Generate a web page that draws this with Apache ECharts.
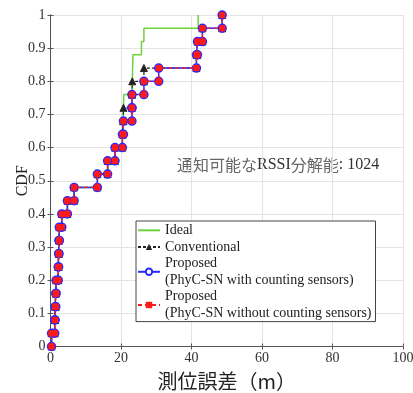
<!DOCTYPE html>
<html>
<head>
<meta charset="utf-8">
<script src="https://cdn.jsdelivr.net/npm/echarts@6/dist/echarts.min.js"></script>
<style>
  html, body { margin: 0; padding: 0; background: #fff; }
  #chart { width: 413px; height: 393px; }
</style>
</head>
<body>
<div id="chart"></div>
<script>
// sorted positioning errors (m); CDF steps of 1/25 per sample
const idealErr = [0.3, 1.2, 1.3, 1.5, 1.6, 2.2, 2.3, 2.4, 2.5, 3.2, 4.8, 6.7, 13.3, 16.2, 18.3, 20.4, 20.6,
                  20.7, 20.8, 23.2, 23.3, 23.4, 25.8, 26.5, 41.9];
const convErr = [0.3, 1.2, 1.3, 1.5, 1.6, 2.2, 2.3, 2.4, 2.5, 3.2, 4.8, 6.7, 13.3, 16.2, 18.3, 20.4, 20.6,
                 20.7, 23.1, 23.2, 26.5, 41.4, 41.7, 43.1, 48.7];
const propErr = [0.3, 1.2, 1.3, 1.5, 1.6, 2.2, 2.3, 2.4, 2.5, 3.2, 4.8, 6.7, 13.3, 16.2, 18.3, 20.4, 20.7,
                 23.1, 23.1, 26.5, 30.7, 41.4, 41.7, 43.1, 48.7];
const propNoCountErr = propErr.slice();

const xTicks = [0, 20, 40, 60, 80, 100];
const yTicks = [0, 0.1, 0.2, 0.3, 0.4, 0.5, 0.6, 0.7, 0.8, 0.9, 1];

const seriesNames = ['Ideal', 'Conventional', 'Proposed (with)', 'Proposed (without)'];
const legendLabels = {
    'Ideal': 'Ideal',
    'Conventional': 'Conventional',
    'Proposed (with)': 'Proposed\n(PhyC-SN with counting sensors)',
    'Proposed (without)': 'Proposed\n(PhyC-SN without counting sensors)'
};

// stairs vertices: vertical jump at each sample
function stairs(errs) {
    const n = errs.length;
    const pts = [];
    errs.forEach((e, k) => {
        pts.push([e, k / n]);
        pts.push([e, (k + 1) / n]);
    });
    return pts;
}

const serif = 'Liberation Serif';
const chart = echarts.init(document.getElementById('chart'));

const option = {
    backgroundColor: '#fff',
    animation: false,
    grid: { left: 50.5, right: 10, top: 15, bottom: 46.5, containLabel: false, outerBoundsMode: 'none' },
    legend: {
        orient: 'vertical',
        left: 136,
        top: 221,
        data: [
            { name: seriesNames[0], itemStyle: { opacity: 0 } },
            seriesNames[1],
            { name: seriesNames[2], itemStyle: { color: '#fff' } },
            seriesNames[3]
        ],
        formatter: (name) => legendLabels[name],
        backgroundColor: '#fff',
        borderColor: '#444',
        borderWidth: 1,
        borderRadius: 0,
        padding: [1, 4, 0, 1],
        itemGap: 0,
        itemWidth: 22,
        itemHeight: 8,
        textStyle: { fontFamily: serif, fontSize: 14, color: '#222', lineHeight: 16.6 }
    },
    xAxis: [
        {
            type: 'value', min: xTicks[0], max: xTicks[xTicks.length - 1], interval: 20,
            name: '測位誤差（m）', nameLocation: 'middle', nameGap: 25, nameMoveOverlap: false,
            nameTextStyle: { fontFamily: 'Noto Sans CJK JP', fontSize: 20, color: '#222' },
            axisLine: { show: true, lineStyle: { color: '#555', width: 1 } },
            axisTick: { show: true, inside: true, length: 3, lineStyle: { color: '#555' } },
            axisLabel: { fontFamily: serif, fontSize: 14, color: '#333', margin: 5 },
            splitLine: { show: true, lineStyle: { color: '#e4e4e4', width: 1 } }
        },
        {
            type: 'value', position: 'top', min: 0, max: 100, interval: 20,
            axisLine: { show: true, lineStyle: { color: '#555', width: 1 } },
            axisTick: { show: true, inside: true, length: 3, lineStyle: { color: '#555' } },
            axisLabel: { show: false },
            splitLine: { show: false }
        }
    ],
    yAxis: [
        {
            type: 'value', min: yTicks[0], max: yTicks[yTicks.length - 1], interval: 0.1,
            name: 'CDF', nameLocation: 'middle', nameGap: 20, nameRotate: 90, nameMoveOverlap: false,
            nameTextStyle: { fontFamily: serif, fontSize: 16, color: '#222' },
            axisLine: { show: true, lineStyle: { color: '#555', width: 1 } },
            axisTick: { show: true, inside: true, length: 3, lineStyle: { color: '#555' } },
            axisLabel: { fontFamily: serif, fontSize: 14, color: '#333', margin: 5 },
            splitLine: { show: true, lineStyle: { color: '#e4e4e4', width: 1 } }
        },
        {
            type: 'value', position: 'right', min: 0, max: 1, interval: 0.1,
            axisLine: { show: true, lineStyle: { color: '#555', width: 1 } },
            axisTick: { show: true, inside: true, length: 3, lineStyle: { color: '#555' } },
            axisLabel: { show: false },
            splitLine: { show: false }
        }
    ],
    graphic: [
        {
            type: 'text',
            left: 177,
            top: 157,
            style: {
                text: '{jp|通知可能な}{en|RSSI}{jp|分解能}{en|: 1024}',
                rich: {
                    jp: { fontFamily: 'Noto Sans CJK JP', fontSize: 16, fill: '#666' },
                    en: { fontFamily: serif, fontSize: 16, fill: '#333' }
                }
            }
        }
    ],
    series: [
        {
            name: seriesNames[0], type: 'line', data: stairs(idealErr),
            symbol: 'none', z: 2,
            lineStyle: { color: '#6fd13f', width: 1.5 },
            itemStyle: { color: '#6fd13f' }
        },
        {
            name: seriesNames[1], type: 'line', data: stairs(convErr),
            symbol: 'triangle', symbolSize: 7, z: 3,
            lineStyle: { color: '#222', width: 1.2, type: [3, 2] },
            itemStyle: { color: '#222', borderColor: '#222' }
        },
        {
            name: seriesNames[2], type: 'line', data: stairs(propErr),
            symbol: 'circle', symbolSize: 8, z: 4,
            lineStyle: { color: '#2a2aff', width: 1.5 },
            itemStyle: { color: '#ff1a1a', borderColor: '#2a2aff', borderWidth: 1.5 }
        },
        {
            name: seriesNames[3], type: 'line', data: stairs(propNoCountErr),
            symbol: 'rect', symbolSize: 6, z: 5,
            lineStyle: { color: '#ff1a1a', width: 1.2, type: [4, 3] },
            itemStyle: { color: '#ff1a1a' }
        }
    ]
};

chart.setOption(option);
</script>
</body>
</html>
